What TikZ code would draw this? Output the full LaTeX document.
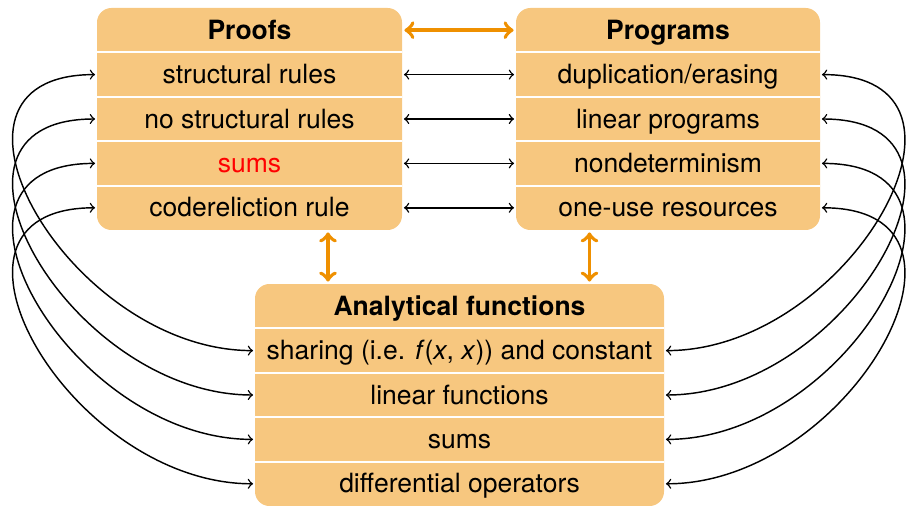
\documentclass[tikz,border=0pt]{standalone}
\usepackage{fontspec}
\setmainfont{TeX Gyre Heros}
\usepackage{xcolor}
\usepackage{tikz}
\usetikzlibrary{backgrounds}

\definecolor{boxfill}{HTML}{F7C77F}
\definecolor{linkorange}{HTML}{EF9000}
\newcommand{\pxu}{0.415pt}

\tikzset{
  row/.style={minimum height=44.4*\pxu, inner sep=0pt, outer sep=0pt,
    text height=0.9em, text depth=0.15em, font=\fontsize{11}{13}\selectfont},
  head/.style={row, font=\fontsize{11}{13}\selectfont\bfseries},
  link/.style={<->, line width=0.6pt, shorten >=0.8pt, shorten <=0.8pt},
  biglink/.style={<->, linkorange, line width=1.6pt, shorten >=1pt, shorten <=1pt},
  sepline/.style={white, line width=0.8pt}
}

\begin{document}
\begin{tikzpicture}[x=0.415pt,y=-0.415pt]
\useasboundingbox (0,0) rectangle (907,506);
% proofs
\node[head, minimum width=305*\pxu] (ph) at (249.5,30.2) {Proofs};
\foreach \i/\lab in {1/structural rules, 2/no structural rules, 3/{\color{red}sums}, 4/codereliction rule}
  \node[row, minimum width=305*\pxu] (p\i) at (249.5,{30.2+44.4*\i}) {\lab};
% programs
\node[head, minimum width=304*\pxu] (gh) at (668,30.2) {Programs};
\foreach \i/\lab in {1/{duplication/erasing}, 2/linear programs, 3/nondeterminism, 4/one-use resources}
  \node[row, minimum width=304*\pxu] (g\i) at (668,{30.2+44.4*\i}) {\lab};
% analytical functions
\node[head, minimum width=409*\pxu] (ah) at (459.5,306.2) {Analytical functions};
\foreach \i/\lab in {1/{sharing (i.e. \textit{f}(\textit{x}, \textit{x})) and constant}, 2/linear functions, 3/sums, 4/differential operators}
  \node[row, minimum width=409*\pxu] (a\i) at (459.5,{306.2+44.4*\i}) {\lab};

\begin{scope}[on background layer]
\fill[boxfill, rounded corners=6pt] (ph.north west) rectangle (p4.south east);
\fill[boxfill, rounded corners=6pt] (gh.north west) rectangle (g4.south east);
\fill[boxfill, rounded corners=6pt] (ah.north west) rectangle (a4.south east);
\end{scope}
\foreach \n in {ph,p1,p2,p3,gh,g1,g2,g3,ah,a1,a2,a3}
  \draw[sepline] (\n.south west) -- (\n.south east);

% links
\foreach \i in {1,...,4} {
  \draw[link] (p\i.east) -- (g\i.west);
  \draw[link] (p\i.west) to[out=180,in=180,looseness=1.5] (a\i.west);
  \draw[link] (g\i.east) to[out=0,in=0,looseness=1.5] (a\i.east);
}
\coordinate (pdown) at ([xshift=78.5*\pxu]p4.south);
\coordinate (gdown) at ([xshift=-78.5*\pxu]g4.south);
\draw[biglink] (ph.east) -- (gh.west);
\draw[biglink] (pdown) -- (pdown |- ah.north);
\draw[biglink] (gdown) -- (gdown |- ah.north);
\end{tikzpicture}
\end{document}
